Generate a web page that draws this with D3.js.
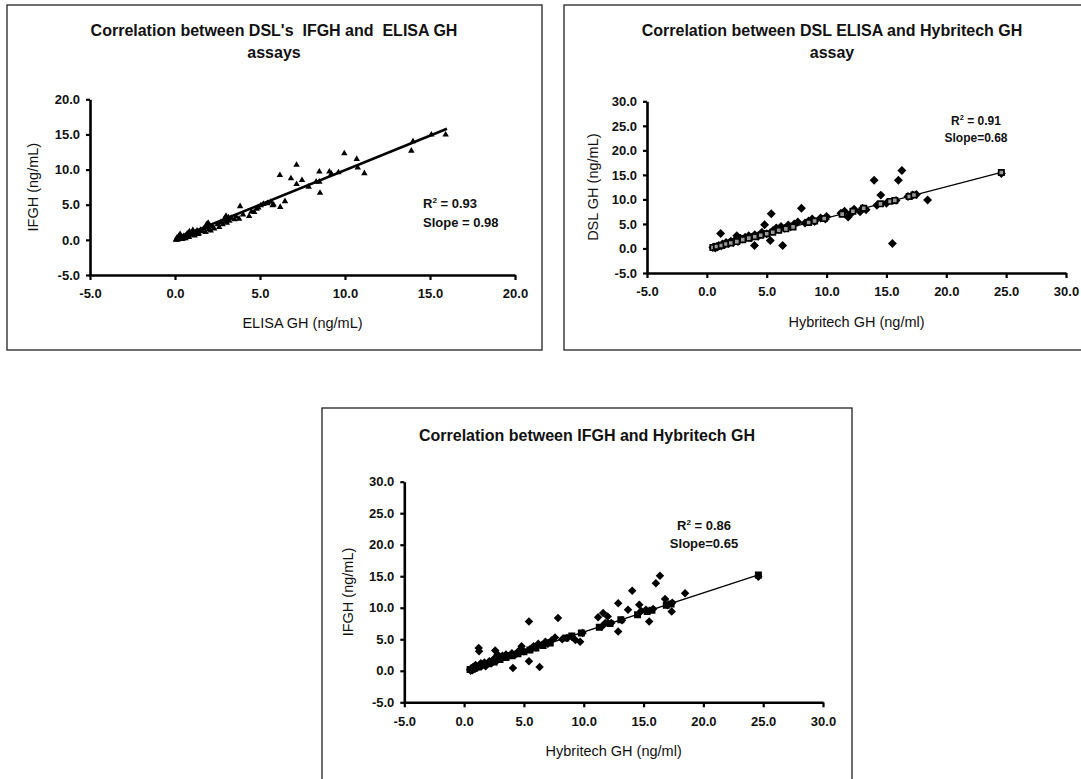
<!DOCTYPE html>
<html>
<head>
<meta charset="utf-8">
<title>GH assay correlations</title>
<script src="https://cdn.jsdelivr.net/npm/d3@7/dist/d3.min.js"></script>
<style>
  body { margin:0; background:#fff; }
  svg text { font-family: "Liberation Sans", Arial, sans-serif; fill:#111; }
</style>
</head>
<body>
<svg id="chart" width="1081" height="779"></svg>
<script>
// ── panel 1: IFGH vs ELISA GH (triangles) ──
const p1Points = [
  [0.05,0.0],[0.1,0.1],[0.12,0.3],[0.15,0.0],[0.2,0.2],[0.22,0.5],[0.25,0.1],[0.3,0.3],[0.3,0.8],[0.35,0.2],
  [0.4,0.4],[0.42,0.1],[0.45,0.3],[0.5,0.5],[0.5,0.2],[0.55,0.4],[0.6,0.6],[0.62,0.2],[0.65,0.5],[0.7,0.5],
  [0.72,0.9],[0.75,0.8],[0.8,0.6],[0.82,0.4],[0.85,1.2],[0.9,0.9],[0.95,0.7],[1.0,1.0],[1.05,1.4],[1.1,0.8],
  [1.15,0.6],[1.2,1.1],[1.3,1.3],[1.35,0.8],[1.4,0.9],[1.5,1.4],[1.6,1.2],[1.7,1.6],[1.8,1.1],[1.85,2.2],
  [1.9,1.8],[1.95,2.4],[2.0,1.5],[2.05,2.0],[2.1,1.3],[2.2,1.9],[2.3,1.6],[2.5,2.2],[2.6,1.8],[2.7,2.5],
  [2.8,2.2],[2.9,3.0],[2.95,2.6],[3.0,3.4],[3.05,2.4],[3.1,2.9],[3.15,3.2],[3.2,2.7],[3.3,3.1],[3.5,2.9],
  [3.6,3.3],[3.77,3.0],[3.83,4.77],[4.0,3.6],[4.36,3.38],[4.5,4.0],[4.66,3.96],[4.8,4.4],[4.9,4.6],[5.05,4.91],
  [5.2,5.1],[5.44,5.2],[5.64,5.39],[5.74,4.9],[5.8,5.0],[6.19,4.67],[6.47,5.49],[6.17,9.2],[6.82,8.75],[7.15,10.66],
  [7.15,7.93],[7.47,8.5],[7.86,7.55],[8.3,8.26],[8.49,9.7],[8.53,6.68],[8.49,8.26],[9.08,9.7],[9.2,9.4],[9.61,9.6],
  [9.96,12.3],[10.69,11.5],[10.75,10.27],[11.14,9.47],[13.9,12.67],[14.0,14.0],[15.08,14.97],[15.92,14.97]
];
const p1Fit = [[0.0,0.1],[16.0,15.8]];
const p1Ticks = [-5, 0, 5, 10, 15, 20];
const p1Title = ["Correlation between DSL's  IFGH and  ELISA GH", "assays"];
const p1XLabel = "ELISA GH (ng/mL)";
const p1YLabel = "IFGH (ng/mL)";
const p1Stats = ["0.93", "Slope = 0.98"];

// ── panel 2: DSL ELISA vs Hybritech (diamonds + fitted squares) ──
const p2Diamonds = [
  [0.5,0.2],[0.6,0.3],[0.7,0.1],[0.8,0.4],[0.9,0.3],[1.0,0.6],[1.15,3.04],[1.2,0.5],[1.3,0.9],[1.5,0.8],
  [1.6,1.2],[1.8,1.0],[2.0,1.5],[2.2,1.2],[2.4,1.8],[2.5,2.6],[2.6,1.4],[2.8,2.1],[3.0,1.9],[3.2,2.3],
  [3.5,2.6],[3.7,2.2],[3.98,0.62],[4.0,2.8],[4.3,2.5],[4.6,3.3],[4.82,4.85],[5.0,3.0],[5.3,1.63],[5.38,7.06],
  [5.5,3.6],[5.8,4.2],[6.0,3.9],[6.2,4.5],[6.33,0.62],[6.5,4.1],[6.8,4.8],[7.0,4.4],[7.3,5.0],[7.6,5.4],
  [7.9,8.2],[8.2,5.2],[8.5,5.6],[8.8,6.0],[9.0,5.5],[9.5,6.2],[9.9,6.0],[10.0,6.5],[11.2,7.2],[11.5,7.6],
  [11.8,6.4],[12.0,7.0],[12.3,8.0],[12.8,7.5],[13.0,8.2],[13.3,7.9],[13.97,13.9],[14.2,8.8],[14.53,10.88],[15.0,9.2],
  [15.5,1.03],[15.8,9.8],[16.0,13.9],[16.29,15.9],[16.8,10.6],[17.2,10.9],[17.5,11.0],[18.44,9.88],[24.6,15.3]
];
const p2Squares = [
  [0.5,0.2],[0.8,0.4],[1.2,0.6],[1.6,0.9],[2.0,1.1],[2.5,1.4],[3.0,1.8],[3.5,2.1],[4.0,2.4],[4.5,2.7],
  [5.0,3.0],[5.5,3.3],[6.0,3.7],[6.6,4.0],[7.2,4.4],[8.5,5.3],[9.0,5.6],[9.8,6.1],[11.3,7.0],[12.2,7.6],
  [13.1,8.2],[14.5,9.1],[15.3,9.6],[15.7,9.8],[16.9,10.6],[17.3,10.9],[24.6,15.5]
];
const p2Fit = [[0.4,0.1],[24.6,15.5]];
const p2Ticks = [-5, 0, 5, 10, 15, 20, 25, 30];
const p2Title = ["Correlation between DSL ELISA and Hybritech GH", "assay"];
const p2XLabel = "Hybritech GH (ng/ml)";
const p2YLabel = "DSL GH (ng/mL)";
const p2Stats = ["0.91", "Slope=0.68"];

// ── panel 3: IFGH vs Hybritech (diamonds + fitted squares) ──
const p3Diamonds = [
  [0.5,0.2],[0.55,0.0],[0.6,0.4],[0.7,0.1],[0.75,0.6],[0.8,0.5],[0.9,0.3],[0.95,0.9],[1.0,0.7],[1.1,0.5],
  [1.22,3.6],[1.25,3.1],[1.3,0.9],[1.4,1.2],[1.5,0.8],[1.7,1.3],[1.8,0.7],[1.9,1.0],[2.1,1.5],[2.3,1.2],
  [2.5,1.9],[2.6,3.2],[2.7,1.5],[2.8,2.6],[3.0,2.0],[3.2,2.4],[3.5,2.6],[3.7,2.3],[4.08,0.44],[4.0,2.8],
  [4.3,2.6],[4.6,3.2],[4.8,3.9],[5.0,3.1],[5.42,1.5],[5.42,7.83],[5.5,3.4],[5.8,3.9],[6.0,3.7],[6.2,4.3],
  [6.31,0.6],[6.5,4.1],[6.8,4.6],[7.0,4.3],[7.3,4.8],[7.6,5.3],[7.85,8.36],[8.2,5.0],[8.6,5.2],[9.0,5.4],
  [9.3,4.9],[9.7,4.6],[9.9,6.0],[11.2,8.5],[11.5,7.0],[11.62,9.15],[11.8,7.6],[12.0,8.6],[12.3,7.6],[12.88,6.25],
  [12.88,10.7],[13.2,8.0],[13.7,9.67],[14.05,12.69],[14.64,10.47],[14.8,9.5],[15.2,9.7],[15.47,7.83],[15.8,9.8],[16.03,13.9],
  [16.37,15.06],[16.8,11.4],[17.0,10.4],[17.35,9.4],[17.4,10.8],[18.47,12.3],[24.6,14.9]
];
const p3Squares = [
  [0.5,0.2],[0.8,0.4],[1.2,0.6],[1.6,0.9],[2.0,1.1],[2.5,1.4],[3.0,1.8],[3.5,2.1],[4.0,2.4],[4.5,2.7],
  [5.0,3.0],[5.5,3.3],[6.0,3.6],[6.6,4.0],[7.2,4.4],[8.5,5.2],[9.0,5.5],[9.8,6.0],[11.3,6.9],[12.2,7.5],
  [13.1,8.1],[14.5,8.9],[15.3,9.4],[15.7,9.6],[16.9,10.4],[17.3,10.6],[24.6,15.2]
];
const p3Fit = [[0.4,0.2],[24.6,15.2]];
const p3Ticks = [-5, 0, 5, 10, 15, 20, 25, 30];
const p3Title = ["Correlation between IFGH and Hybritech GH"];
const p3XLabel = "Hybritech GH (ng/ml)";
const p3YLabel = "IFGH (ng/mL)";
const p3Stats = ["0.86", "Slope=0.65"];

const svg = d3.select('#chart');
const fmt = d => d.toFixed(1);

function drawPanel(o) {
  const g = svg.append('g');
  g.append('rect')
    .attr('x', o.box[0]).attr('y', o.box[1]).attr('width', o.box[2]).attr('height', o.box[3])
    .attr('fill', 'none').attr('stroke', '#222').attr('stroke-width', 1.3);

  const x = d3.scaleLinear().domain(d3.extent(o.ticks)).range(o.xr);
  const y = d3.scaleLinear().domain(d3.extent(o.ticks)).range(o.yr);

  o.title.forEach((t, i) => {
    g.append('text').attr('x', o.titleX).attr('y', o.titleY + i * 22)
      .attr('text-anchor', 'middle').attr('font-size', 16).attr('font-weight', 'bold')
      .style('white-space', 'pre').text(t);
  });

  const yAxis = g.append('g').attr('transform', `translate(${o.xr[0]},0)`)
    .call(d3.axisLeft(y).tickValues(o.ticks).tickFormat(fmt).tickSize(4).tickSizeOuter(0).tickPadding(6));
  const xAxis = g.append('g').attr('transform', `translate(0,${o.yr[0]})`)
    .call(d3.axisBottom(x).tickValues(o.ticks).tickFormat(fmt).tickSize(5).tickSizeOuter(0).tickPadding(9));
  [xAxis, yAxis].forEach(a => {
    a.select('.domain').attr('stroke', '#000').attr('stroke-width', 2.6);
    a.selectAll('.tick line').attr('stroke', '#000').attr('stroke-width', 2.2);
    a.selectAll('.tick text').attr('font-size', 13).attr('font-weight', 'bold').attr('fill', '#111')
      .style('font-family', '"Liberation Sans", Arial, sans-serif');
  });

  g.append('text').attr('x', (o.xr[0] + o.xr[1]) / 2).attr('y', o.xTitleY)
    .attr('text-anchor', 'middle').attr('font-size', 14.5).text(o.xLabel);
  g.append('text')
    .attr('transform', `translate(${o.yTitleX},${(o.yr[0] + o.yr[1]) / 2}) rotate(-90)`)
    .attr('text-anchor', 'middle').attr('font-size', 14.5).text(o.yLabel);

  const line = d3.line().x(d => x(d[0])).y(d => y(d[1]));

  if (o.triangles) {
    g.append('g').selectAll('path').data(o.triangles).join('path')
      .attr('transform', d => `translate(${x(d[0])},${y(d[1])})`)
      .attr('d', d3.symbol(d3.symbolTriangle, 18)).attr('fill', '#000');
  }
  if (o.diamonds) {
    g.append('g').selectAll('path').data(o.diamonds).join('path')
      .attr('transform', d => `translate(${x(d[0])},${y(d[1])}) rotate(45)`)
      .attr('d', d3.symbol(d3.symbolSquare, o.diaSize)).attr('fill', '#000');
  }
  g.append('path').datum(o.fit).attr('d', line)
    .attr('fill', 'none').attr('stroke', '#000').attr('stroke-width', o.fitWidth);
  if (o.squares) {
    g.append('g').selectAll('path').data(o.squares).join('path')
      .attr('transform', d => `translate(${x(d[0])},${y(d[1])})`)
      .attr('d', d3.symbol(d3.symbolSquare, 28))
      .attr('fill', o.squareFill).attr('stroke', '#000').attr('stroke-width', 1.7);
  }

  const anchor = o.statsAnchor;
  const r2 = g.append('text').attr('x', o.statsX).attr('y', o.statsY)
    .attr('text-anchor', anchor).attr('font-size', o.statsSize).attr('font-weight', 'bold');
  r2.append('tspan').text('R');
  r2.append('tspan').attr('dy', -5).attr('font-size', o.statsSize * 0.62).text('2');
  r2.append('tspan').attr('dy', 5).text(' = ' + o.stats[0]);
  g.append('text').attr('x', o.statsX).attr('y', o.statsY + o.statsGap)
    .attr('text-anchor', anchor).attr('font-size', o.statsSize).attr('font-weight', 'bold')
    .text(o.stats[1]);
}

drawPanel({
  box: [7, 5, 535, 345], xr: [90, 515], yr: [275, 99.3], ticks: p1Ticks,
  title: p1Title, titleX: 274, titleY: 36, xLabel: p1XLabel, yLabel: p1YLabel,
  xTitleY: 328, yTitleX: 38, triangles: p1Points, fit: p1Fit, fitWidth: 2.6,
  stats: p1Stats, statsX: 423, statsY: 208, statsGap: 19, statsAnchor: 'start', statsSize: 13
});
drawPanel({
  box: [564, 5, 530, 345], xr: [647, 1066], yr: [273, 101.3], ticks: p2Ticks,
  title: p2Title, titleX: 832, titleY: 36, xLabel: p2XLabel, yLabel: p2YLabel,
  xTitleY: 327, yTitleX: 598, diamonds: p2Diamonds, diaSize: 40, squares: p2Squares, squareFill: '#999',
  fit: p2Fit, fitWidth: 1.2,
  stats: p2Stats, statsX: 976, statsY: 125, statsGap: 17, statsAnchor: 'middle', statsSize: 12
});
drawPanel({
  box: [322, 408, 530, 400], xr: [404.3, 823], yr: [702.3, 481.7], ticks: p3Ticks,
  title: p3Title, titleX: 587, titleY: 441, xLabel: p3XLabel, yLabel: p3YLabel,
  xTitleY: 756, yTitleX: 353, diamonds: p3Diamonds, diaSize: 36, squares: p3Squares, squareFill: '#000',
  fit: p3Fit, fitWidth: 1.3,
  stats: p3Stats, statsX: 704, statsY: 530, statsGap: 18, statsAnchor: 'middle', statsSize: 13
});
</script>
</body>
</html>
